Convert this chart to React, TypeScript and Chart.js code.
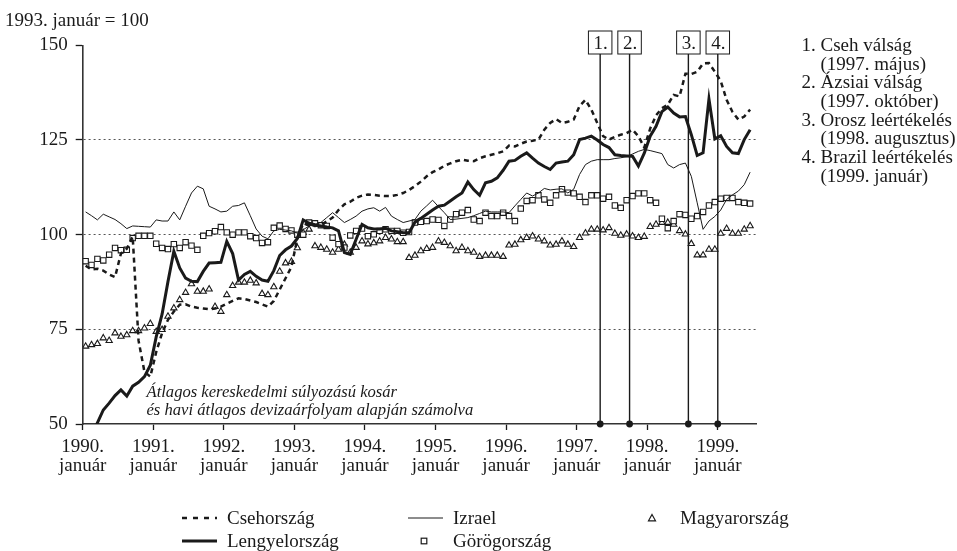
import React, { useEffect, useRef } from 'react';
import { Chart, registerables } from 'chart.js';

Chart.register(...registerables);

const FONT = '"Liberation Serif", "Times New Roman", serif';
const INK = '#1a1a1a';

// ---- data (monthly, Jan 1990 .. Jun 1999, index 0 = 1990 January) ----
const firstYear = 1990;
const yearTicks = [1990, 1991, 1992, 1993, 1994, 1995, 1996, 1997, 1998, 1999];
const tickMonthLabel = 'január';
const valueTicks = [50, 75, 100, 125, 150];
const referenceLines = [75, 100, 125];
const yTitle = '1993. január = 100';

const csehorszag = [
  91.8, 90.8, 91, 90.5, 89.5, 88.8, 95, 96.3, 99.5, 72,
  63.8, 62.5, 69, 74, 77.5, 79.7, 81.5, 81.6, 81, 80.7,
  80.5, 80.3, 80.5, 81, 81.8, 82.5, 83.2, 83, 82.6, 82.2,
  81.6, 81, 82.5, 85.5, 88.5, 91.5, 99, 103, 102.5, 102.3,
  102.5, 103.5, 104.5, 106.5, 108, 108.7, 109.7, 110.3, 110.6, 110.5,
  110.3, 110.2, 110.2, 110.5, 111, 111.8, 112.8, 114, 115.4, 116.5,
  117.2, 118.2, 118.8, 119.4, 119.8, 119.5, 119.4, 120.2, 120.7, 121.1,
  121.5, 122, 123.5, 123.3, 124, 124.6, 124.8, 125.1, 127.7, 129.5,
  130.5, 129.5, 129.8, 130.4, 134, 135.6, 133, 129.5, 126, 125.1,
  125.8, 126.4, 126.8, 127.7, 126, 123, 128, 131.5, 133.4, 134.3,
  136.9, 136.5, 142.5, 142.4, 143, 145.2, 145.3, 143, 140.6, 135.6,
  132.4, 130.4, 131.2, 133,
];

const lengyelorszag = [
  44, 47, 50.3, 53.7, 55.5, 57.5, 59, 57.4, 60, 61,
  62.5, 65.5, 73, 79, 87.6, 95.6, 91.2, 88.5, 87.7, 87.6,
  90.3, 92.5, 92.6, 92.7, 98.2, 95, 88, 89.5, 90.3, 89,
  88, 87.7, 90.5, 94.5, 96, 97, 99, 103.9, 103, 102.6,
  102.3, 102, 101.8, 101, 95.3, 94.8, 98.8, 102.7, 101.8, 101.5,
  101.5, 101.7, 101, 100.8, 100.5, 100.5, 103.3, 104.3, 105.4, 106.5,
  107.5, 107.8, 108.9, 110, 111, 113.9, 111.9, 110.4, 113.7, 114.1,
  115, 117, 119.4, 119.6, 120.7, 121.6, 120.2, 118.9, 118, 117.2,
  118.9, 119.2, 119.4, 121.1, 125.1, 125.5, 126, 125, 123.8, 123,
  121.1, 120.9, 120.8, 120.7, 118.1, 121.5, 126, 128.6, 132.5, 133.7,
  132.1, 131.1, 131.2, 126.4, 120.9, 121.6, 135.8, 125.3, 126.1, 123.3,
  121.6, 121.4, 125.1, 127.7,
];

const izrael = [
  106, 105, 103.9, 105.4, 104.7, 104, 102.9, 101.6, 102.3, 102.2,
  102.1, 102, 103.9, 103.6, 103.6, 106, 103.9, 107.5, 111, 112.8,
  112.1, 107.5, 106.8, 106, 106.2, 107.5, 107.7, 108.4, 105, 101.5,
  99.6, 98.9, 101, 101.4, 101.2, 101, 100.4, 101.3, 102.3, 102.7,
  103.2, 104.5, 105.8, 104.5, 103.2, 104, 104.9, 106.2, 106.8, 107.1,
  106.2, 107.2, 104.9, 104, 103.2, 103.6, 104, 106.2, 107.6, 109.1,
  107.4, 105.8, 104, 104.1, 104.3, 104.5, 105, 105.6, 106.2, 106,
  106, 106, 105.8, 107.6, 109.3, 111, 110.2, 111, 112.2, 111.8,
  112, 112.1, 111, 112, 115.9, 118.5, 119.4, 119.8, 119.8, 119.8,
  120.1, 120.3, 120.6, 121.3, 122, 122.5, 122.2, 121.8, 121.4, 118.5,
  117.6, 118.5, 118.9, 115.4, 108.4, 101.4, 103.6, 104.8, 106.5, 109.3,
  110.5, 111.5, 113.2, 116.5,
];

const gorogorszag = [
  93, 92, 93.6, 93.2, 94.7, 96.5, 95.9, 96, 99.1, 99.7,
  99.7, 99.7, 97.6, 96.5, 96.2, 97.5, 96.5, 98, 97.1, 96,
  99.7, 100.4, 100.9, 102, 100.6, 100, 100.6, 100.6, 99.6, 99.1,
  97.8, 98, 101.8, 102.4, 101.5, 101.1, 100, 100, 103.2, 103,
  102.5, 102.3, 99.2, 97.5, 96.6, 99.8, 101, 101.6, 99.6, 100.1,
  101, 101.4, 101, 101, 100.5, 100.7, 103.2, 103.4, 103.6, 104,
  103.9, 102.3, 104, 105.4, 105.8, 106.5, 104, 103.6, 105.8, 104.9,
  104.9, 105.8, 104.9, 103.6, 106.9, 108.9, 109.1, 110.4, 109.3, 108.4,
  110.4, 112, 111.1, 110.9, 110, 108.6, 110.4, 110.4, 109.5, 110,
  107.7, 107.1, 109.1, 110.2, 110.9, 110.9, 109.1, 108.4, 104.2, 101.7,
  103.6, 105.4, 105.2, 104.2, 104.9, 106, 107.7, 108.6, 109.5, 109.7,
  109.7, 108.6, 108.4, 108.2,
];

const magyarorszag = [
  70.5, 70.9, 71.2, 72.7, 72, 74, 73.1, 73.5, 74.6, 74.6,
  75.3, 76.5, 74.4, 74.9, 78.4, 80.6, 82.8, 84.7, 87, 85,
  85, 85.6, 81, 79.7, 84.1, 86.5, 87.4, 87.4, 87.9, 87.2,
  84.4, 84.1, 86.2, 90.3, 92.5, 92.9, 96.5, 100.5, 101.4, 97,
  96.6, 96.1, 95.3, 96.1, 97.4, 95.3, 96.6, 98.3, 97.5, 97.8,
  98.3, 99.2, 98.8, 98.1, 98.1, 93.9, 94.5, 95.7, 96.3, 96.6,
  98.3, 97.9, 97, 95.7, 96.6, 95.7, 95.3, 94.2, 94.5, 94.5,
  94.5, 94.2, 97.2, 97.4, 98.6, 99.2, 99.6, 98.8, 98.3, 97.2,
  97.4, 98.3, 97.4, 96.8, 99.2, 100.4, 101.4, 101.4, 101.2, 101.8,
  100.3, 99.8, 100.1, 99.6, 99.2, 99.5, 102.1, 102.7, 103.2, 103.2,
  102.7, 101, 100.1, 97.6, 94.6, 94.6, 96.1, 96.1, 100.3, 101.6,
  100.3, 100.3, 101.4, 102.3,
];

const crisisLabels = ['1.', '2.', '3.', '4.'];
const crisisYears = [1997, 1997, 1998, 1999];
const crisisMonths = [5, 10, 8, 1];
const crisisNotes = [
  ['1. Cseh válság', '(1997. május)'],
  ['2. Ázsiai válság', '(1997. október)'],
  ['3. Orosz leértékelés', '(1998. augusztus)'],
  ['4. Brazil leértékelés', '(1999. január)'],
];
const noteLines = [
  'Átlagos kereskedelmi súlyozású kosár',
  'és havi átlagos devizaárfolyam alapján számolva',
];

const seriesNames = ['Csehország', 'Lengyelország', 'Izrael', 'Görögország', 'Magyarország'];

const monthCount = lengyelorszag.length;
const toPoints = (arr: number[]) => arr.map((v, i) => ({ x: firstYear + (i + 0.5) / 12, y: v }));

// legend layout: [name, kind, sampleX1, sampleX2, textX, y]
const legendItems: [string, string, number, number, number, number][] = [
  [seriesNames[0], 'dash', 182, 217, 227, 518],
  [seriesNames[1], 'thick', 182, 217, 227, 541],
  [seriesNames[2], 'thin', 408, 443, 453, 518],
  [seriesNames[3], 'square', 424, 424, 453, 541],
  [seriesNames[4], 'triangle', 652, 652, 680, 518],
];

const overlayPlugin = {
  id: 'overlay',
  afterDraw(chart: any) {
    const { ctx, chartArea, scales } = chart;
    ctx.save();
    ctx.fillStyle = INK;
    ctx.strokeStyle = INK;

    // axis title
    ctx.font = `19px ${FONT}`;
    ctx.textAlign = 'left';
    ctx.textBaseline = 'alphabetic';
    ctx.fillText(yTitle, 5, 26);

    // crisis markers
    crisisLabels.forEach((lab, k) => {
      const x = scales.x.getPixelForValue(crisisYears[k] + (crisisMonths[k] - 1) / 12);
      const boxTop = 31;
      const boxH = 23;
      const boxW = 23.5;
      ctx.lineWidth = 1.4;
      ctx.beginPath();
      ctx.moveTo(x, boxTop + boxH);
      ctx.lineTo(x, chartArea.bottom);
      ctx.stroke();
      ctx.beginPath();
      ctx.arc(x, chartArea.bottom, 3.4, 0, Math.PI * 2);
      ctx.fill();
      ctx.fillStyle = '#fff';
      ctx.fillRect(x - boxW / 2, boxTop, boxW, boxH);
      ctx.fillStyle = INK;
      ctx.lineWidth = 1;
      ctx.strokeRect(x - boxW / 2, boxTop, boxW, boxH);
      ctx.font = `19px ${FONT}`;
      ctx.textAlign = 'center';
      ctx.textBaseline = 'alphabetic';
      ctx.fillText(lab, x + 0.5, boxTop + 18);
    });

    // crisis notes on the right
    ctx.font = `19px ${FONT}`;
    ctx.textAlign = 'left';
    ctx.textBaseline = 'alphabetic';
    let line = 0;
    crisisNotes.forEach((pair) => {
      ctx.fillText(pair[0], 801.5, 51 + line * 18.67);
      line++;
      ctx.fillText(pair[1], 820.5, 51 + line * 18.67);
      line++;
    });

    // italic note
    ctx.font = `italic 16.6px ${FONT}`;
    ctx.fillText(noteLines[0], 146.5, 397);
    ctx.fillText(noteLines[1], 146.5, 415);

    // legend
    legendItems.forEach(([name, kind, x1, x2, tx, y]) => {
      ctx.save();
      if (kind === 'dash' || kind === 'thick' || kind === 'thin') {
        ctx.lineWidth = kind === 'thin' ? 1 : kind === 'thick' ? 3 : 2.5;
        ctx.setLineDash(kind === 'dash' ? [5, 6] : []);
        ctx.beginPath();
        ctx.moveTo(x1, y);
        ctx.lineTo(x2, y);
        ctx.stroke();
      } else if (kind === 'square') {
        ctx.lineWidth = 1.2;
        ctx.strokeRect(x1 - 2.8, y - 2.8, 5.6, 5.6);
      } else {
        ctx.lineWidth = 1.2;
        ctx.beginPath();
        ctx.moveTo(x1, y - 3.5);
        ctx.lineTo(x1 + 3.5, y + 2.8);
        ctx.lineTo(x1 - 3.5, y + 2.8);
        ctx.closePath();
        ctx.stroke();
      }
      ctx.restore();
      ctx.font = `19px ${FONT}`;
      ctx.textBaseline = 'middle';
      ctx.fillText(name, tx, y + 1);
    });
    ctx.restore();
  },
};

export default function App() {
  const canvasRef = useRef<HTMLCanvasElement | null>(null);

  useEffect(() => {
    const canvas = canvasRef.current;
    if (!canvas) return;
    const chart = new Chart(canvas, {
      type: 'line',
      data: {
        datasets: [
          {
            label: seriesNames[0],
            data: toPoints(csehorszag),
            borderColor: INK,
            borderWidth: 2.5,
            borderDash: [5, 4],
            pointRadius: 0,
            fill: false,
            tension: 0,
            order: 0,
          },
          {
            label: seriesNames[1],
            data: toPoints(lengyelorszag),
            borderColor: INK,
            borderWidth: 3,
            pointRadius: 0,
            fill: false,
            tension: 0,
            order: 0,
          },
          {
            label: seriesNames[2],
            data: toPoints(izrael),
            borderColor: INK,
            borderWidth: 1,
            pointRadius: 0,
            fill: false,
            tension: 0,
            order: 0,
          },
          {
            label: seriesNames[3],
            data: toPoints(gorogorszag),
            showLine: false,
            pointStyle: 'rect',
            pointRadius: 3.8,
            pointBorderWidth: 1.1,
            pointBorderColor: INK,
            pointBackgroundColor: '#fff',
            borderColor: INK,
            order: 1,
          },
          {
            label: seriesNames[4],
            data: toPoints(magyarorszag),
            showLine: false,
            pointStyle: 'triangle',
            pointRadius: 3.6,
            pointBorderWidth: 1.1,
            pointBorderColor: INK,
            pointBackgroundColor: '#fff',
            borderColor: INK,
            order: 1,
          },
        ],
      },
      options: {
        responsive: false,
        animation: false,
        devicePixelRatio: 1,
        layout: { padding: { left: 0, top: 45.3, right: 201, bottom: 67 } },
        plugins: {
          legend: { display: false },
          tooltip: { enabled: false },
          title: { display: false },
        },
        scales: {
          x: {
            type: 'linear',
            min: firstYear,
            max: firstYear + (monthCount + 0.5) / 12,
            afterFit: (s: any) => {
              s.height = 60;
            },
            afterBuildTicks: (s: any) => {
              s.ticks = yearTicks.map((v) => ({ value: v }));
            },
            grid: {
              drawOnChartArea: false,
              drawTicks: true,
              tickLength: 6,
              tickColor: INK,
              tickWidth: 1.3,
              color: INK,
            },
            border: { display: true, color: '#333', width: 1.6 },
            ticks: {
              stepSize: 1,
              includeBounds: false,
              autoSkip: false,
              maxRotation: 0,
              padding: 7,
              color: INK,
              font: { family: FONT, size: 19, lineHeight: 1.02 },
              callback: (v: any) => [`${v}.`, tickMonthLabel],
            },
          },
          y: {
            type: 'linear',
            min: valueTicks[0],
            max: valueTicks[valueTicks.length - 1],
            afterFit: (s: any) => {
              s.width = 82.7;
            },
            afterBuildTicks: (s: any) => {
              s.ticks = valueTicks.map((v) => ({ value: v }));
            },
            grid: {
              drawOnChartArea: true,
              drawTicks: true,
              tickLength: 7,
              tickColor: INK,
              tickWidth: 1.3,
              lineWidth: 1,
              color: (c: any) => (referenceLines.includes(c.tick?.value) ? '#555' : 'rgba(0,0,0,0)'),
            },
            border: { display: true, color: '#333', width: 1.6, dash: [2, 3] },
            ticks: {
              stepSize: 25,
              padding: 8,
              color: INK,
              font: { family: FONT, size: 19 },
            },
          },
        },
      },
      plugins: [overlayPlugin],
    } as any);
    return () => chart.destroy();
  }, []);

  return (
    <div style={{ position: 'absolute', left: 0, top: 0, width: 957, height: 551, background: '#fff' }}>
      <canvas ref={canvasRef} width={957} height={551} style={{ width: 957, height: 551, display: 'block' }} />
    </div>
  );
}
